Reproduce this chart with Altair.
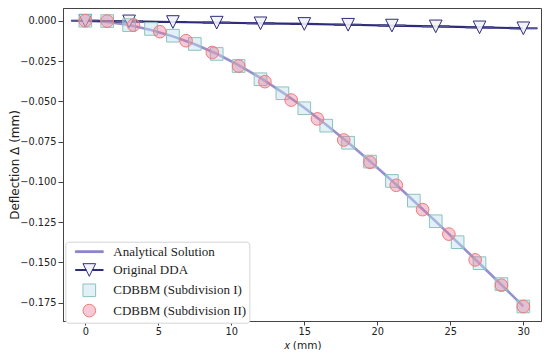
import altair as alt
import pandas as pd

# ---------------- data ----------------
series_names = ["Analytical Solution", "Original DDA",
                "CDBBM (Subdivision I)", "CDBBM (Subdivision II)"]

x_analytical = [0, 1.5, 3, 4.5, 6, 7.5, 9, 10.5, 12, 13.5, 15, 16.5, 18, 19.5,
                21, 22.5, 24, 25.5, 27, 28.5, 30]
y_analytical = [0.0, -0.0007, -0.0027, -0.0058, -0.0097, -0.0146, -0.0205,
                -0.0275, -0.0355, -0.0444, -0.0540, -0.0645, -0.0755, -0.0872,
                -0.0993, -0.1118, -0.1245, -0.1375, -0.1506, -0.1638, -0.1772]

x_dda = [0, 3, 6, 9, 12, 15, 18, 21, 24, 27, 30]
y_dda = [0.0, -0.0004, -0.0008, -0.0012, -0.0016, -0.0020, -0.0025,
         -0.0030, -0.0035, -0.0041, -0.0047]

x_sub1 = [0, 1.5, 3, 4.5, 6, 7.5, 9, 10.5, 12, 13.5, 15, 16.5, 18, 19.5,
          21, 22.5, 24, 25.5, 27, 28.5, 30]
y_sub1 = [0.0, -0.0002, -0.0027, -0.0051, -0.0093, -0.0144, -0.0206,
          -0.0281, -0.0363, -0.0450, -0.0543, -0.0651, -0.0757, -0.0874,
          -0.0994, -0.1116, -0.1244, -0.1374, -0.1504, -0.1634, -0.1773]

x_sub2 = [0, 1.5, 3.3, 5.1, 6.9, 8.7, 10.5, 12.3, 14.1, 15.9, 17.7, 19.5,
          21.3, 23.1, 24.9, 26.7, 28.5, 30]
y_sub2 = [0.0, -0.0002, -0.0027, -0.0068, -0.0124, -0.0197, -0.0281,
          -0.0378, -0.0492, -0.0609, -0.0740, -0.0878, -0.1021, -0.1172,
          -0.1324, -0.1484, -0.1641, -0.1773]

x_ticks = [0, 5, 10, 15, 20, 25, 30]
y_ticks = [0.0, -0.025, -0.05, -0.075, -0.1, -0.125, -0.15, -0.175]

# ---------------- tables ----------------
df_an = pd.DataFrame({"x": x_analytical, "y": y_analytical})
df_dda = pd.DataFrame({"x": x_dda, "y": y_dda})
df_pts = pd.concat([
    pd.DataFrame({"x": x_dda, "y": y_dda, "series": series_names[1]}),
    pd.DataFrame({"x": x_sub1, "y": y_sub1, "series": series_names[2]}),
    pd.DataFrame({"x": x_sub2, "y": y_sub2, "series": series_names[3]}),
], ignore_index=True)
df_pts["order"] = range(len(df_pts))

LAV = "#8a84c8"
NAVY = "#2e2c78"
TEAL = "#8cc2bc"
CORAL = "#ef7b7b"

path_line = "M-2.2,-0.14H2.2V0.14H-2.2Z"
path_dda = ("M-2.2,-0.08H-0.5V0.08H-2.2Z M0.5,-0.08H2.2V0.08H0.5Z "
            "M-1,-1L1,-1L0,1Z")

xs = alt.Scale(domain=[-1.527, 31.21], nice=False, zero=False)
ys = alt.Scale(domain=[-0.1863, 0.0079], nice=False, zero=False)

xax = alt.Axis(values=x_ticks, title="𝑥 (mm)", format="d", grid=False,
               tickSize=4, labelPadding=1, titleFontSize=10.5,
               titleBaseline="alphabetic", titleY=27)
yax = alt.Axis(values=y_ticks, title="Deflection Δ (mm)", format=".3f",
               grid=False, tickSize=5, labelPadding=2, titleFontSize=12,
               titleBaseline="top", titleX=-54)

an_line = alt.Chart(df_an).mark_line(color=LAV, strokeWidth=2.6, opacity=0.9).encode(
    x=alt.X("x:Q", scale=xs, axis=xax),
    y=alt.Y("y:Q", scale=ys, axis=yax),
)
dda_line = alt.Chart(df_dda).mark_line(color=NAVY, strokeWidth=2.2).encode(
    x=alt.X("x:Q", scale=xs),
    y=alt.Y("y:Q", scale=ys),
)

legend = alt.Legend(
    title=None, orient="none", legendX=2.3, legendY=233.7,
    fillColor="white", strokeColor="#d4d4d4", cornerRadius=3, padding=3,
    symbolOffset=14, labelOffset=17, labelFont="Liberation Serif",
    labelFontSize=13, labelColor="#222222", rowPadding=2.3, symbolSize=160,
    symbolStrokeWidth=1, labelLimit=400,
)

pts = alt.Chart(df_pts).mark_point(size=160, strokeWidth=1, opacity=1).encode(
    x=alt.X("x:Q", scale=xs),
    y=alt.Y("y:Q", scale=ys),
    shape=alt.Shape("series:N", scale=alt.Scale(
        domain=series_names, range=[path_line, path_dda, "square", "circle"]),
        legend=legend),
    stroke=alt.Stroke("series:N", scale=alt.Scale(
        domain=series_names, range=[LAV, NAVY, TEAL, CORAL]), legend=legend),
    fill=alt.Fill("series:N", scale=alt.Scale(
        domain=series_names,
        range=[LAV, "rgba(242,242,250,0.9)", "rgba(190,225,240,0.45)",
               "rgba(230,120,150,0.4)"]), legend=legend),
    order=alt.Order("order:Q"),
)

chart = alt.layer(an_line, dda_line, pts).properties(
    width=478, height=313,
    padding={"left": 55, "top": 0, "right": 1, "bottom": 29},
    autosize=alt.AutoSizeParams(type="none"),
).configure_view(
    stroke="#444444", strokeWidth=1,
).configure_axis(
    domainColor="#444444", tickColor="#444444", tickWidth=1,
    labelFont="DejaVu Sans", labelFontSize=9.8, labelColor="#222222",
    titleFont="DejaVu Sans", titleFontWeight="normal", titleColor="#222222",
)

chart.save("out.html", embed_options={"renderer": "svg", "actions": False})
